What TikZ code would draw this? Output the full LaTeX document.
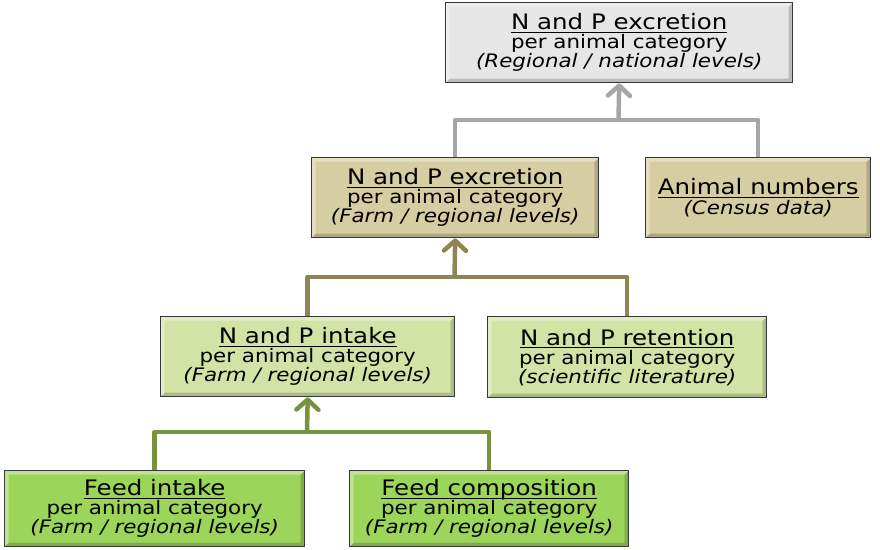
\documentclass[tikz,border=0pt]{standalone}
\usepackage{fontspec}
\setmainfont{DejaVu Sans}[FakeStretch=1.15]
\usetikzlibrary{arrows.meta}
\definecolor{greyfill}{RGB}{230,230,230}
\definecolor{tanfill}{RGB}{214,206,162}
\definecolor{lgreenfill}{RGB}{211,227,166}
\definecolor{bgreenfill}{RGB}{155,213,90}
\definecolor{greyline}{RGB}{166,166,166}
\definecolor{oliveline}{RGB}{143,133,84}
\definecolor{greenline}{RGB}{119,147,60}
\definecolor{boxborder}{RGB}{55,55,55}
\newcommand{\myul}[1]{\setbox0=\hbox{#1}\rlap{\rule[-3.4pt]{\wd0}{1.1pt}}\box0}
\newcommand{\ttl}[1]{{\fontsize{21.3}{23}\selectfont\myul{#1}}}
\tikzset{
  diabox/.style={rectangle, draw=boxborder, line width=1.4pt, inner sep=0pt,
    anchor=north west, align=center, font=\fontsize{18.6}{19}\selectfont,
    path picture={
      \fill[black,opacity=.18] (path picture bounding box.south west) -- (path picture bounding box.south east) -- (path picture bounding box.north east) -- ([shift={(-4pt,-4pt)}]path picture bounding box.north east) -- ([shift={(-4pt,4pt)}]path picture bounding box.south east) -- ([shift={(4pt,4pt)}]path picture bounding box.south west) -- cycle;
      \fill[white,opacity=.35] (path picture bounding box.south west) -- (path picture bounding box.north west) -- (path picture bounding box.north east) -- ([shift={(-4pt,-4pt)}]path picture bounding box.north east) -- ([shift={(4pt,-4pt)}]path picture bounding box.north west) -- ([shift={(4pt,4pt)}]path picture bounding box.south west) -- cycle;
    }},
  conn/.style={line width=4.5pt, line join=round},
  arr/.style={conn, -{Straight Barb[length=10pt,width=22pt,round]}}
}
\begin{document}
\begin{tikzpicture}[x=1pt,y=-1pt]
\useasboundingbox (0,0) rectangle (880,549);
% boxes
\node[diabox, fill=greyfill, minimum width=347pt, minimum height=80pt] (top) at (445,2)
  {\ttl{N and P excretion}\\ per animal category\\ \textit{(Regional / national levels)}};
\node[diabox, fill=tanfill, minimum width=287pt, minimum height=80pt] (exc) at (311,157)
  {\ttl{N and P excretion}\\ per animal category\\ \textit{(Farm / regional levels)}};
\node[diabox, fill=tanfill, minimum width=225pt, minimum height=80pt] (anim) at (645,157)
  {\ttl{Animal numbers}\\[1pt] \textit{(Census data)}};
\node[diabox, fill=lgreenfill, minimum width=294pt, minimum height=80pt] (intake) at (160,316)
  {\ttl{N and P intake}\\ per animal category\\ \textit{(Farm / regional levels)}};
\node[diabox, fill=lgreenfill, minimum width=279pt, minimum height=81pt] (ret) at (487,316)
  {\ttl{N and P retention}\\ per animal category\\ \textit{(scientific literature)}};
\node[diabox, fill=bgreenfill, minimum width=300pt, minimum height=76pt] (fi) at (4,470)
  {\ttl{Feed intake}\\ per animal category\\ \textit{(Farm / regional levels)}};
\node[diabox, fill=bgreenfill, minimum width=279pt, minimum height=76pt] (fc) at (349,470)
  {\ttl{Feed composition}\\ per animal category\\ \textit{(Farm / regional levels)}};
% junctions
\coordinate (j1) at (618.5,120);
\coordinate (j2) at (454.5,277);
\coordinate (j3) at (307,432);
% connectors
\draw[conn, greyline] (exc.north) |- (j1) -| (anim.north);
\draw[arr, greyline] (j1) -- (top.south);
\draw[conn, oliveline] (intake.north) |- (j2) -| (ret.north);
\draw[arr, oliveline] (j2) -- (exc.south);
\draw[conn, greenline] (fi.north) |- (j3) -| (fc.north);
\draw[arr, greenline] (j3) -- (intake.south);
\end{tikzpicture}
\end{document}
